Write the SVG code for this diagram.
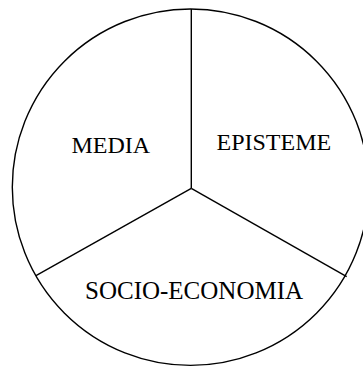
<svg xmlns="http://www.w3.org/2000/svg" width="363" height="367" viewBox="0 0 363 367">
<style>
.ln{fill:none;stroke:#000;stroke-width:1.4}
.lbl{font-family:"Liberation Serif","Times New Roman",serif;font-size:24px;fill:#000}
</style>
<rect width="363" height="367" fill="#fff"/>
<g id="connectors">
<circle class="ln" cx="190.5" cy="187.2" r="178.2"/>
<line class="ln" x1="191.3" y1="9" x2="191.3" y2="188.3"/>
<line class="ln" x1="191.3" y1="188.3" x2="36" y2="275.7"/>
<line class="ln" x1="191.3" y1="188.3" x2="346.7" y2="276.7"/>
</g>
<g id="media"><text class="lbl" x="71.5" y="153.3">MEDIA</text></g>
<g id="episteme"><text class="lbl" x="216.5" y="150">EPISTEME</text></g>
<g id="socio-economia"><text class="lbl" x="85" y="299" style="font-size:25px">SOCIO-ECONOMIA</text></g>
</svg>
